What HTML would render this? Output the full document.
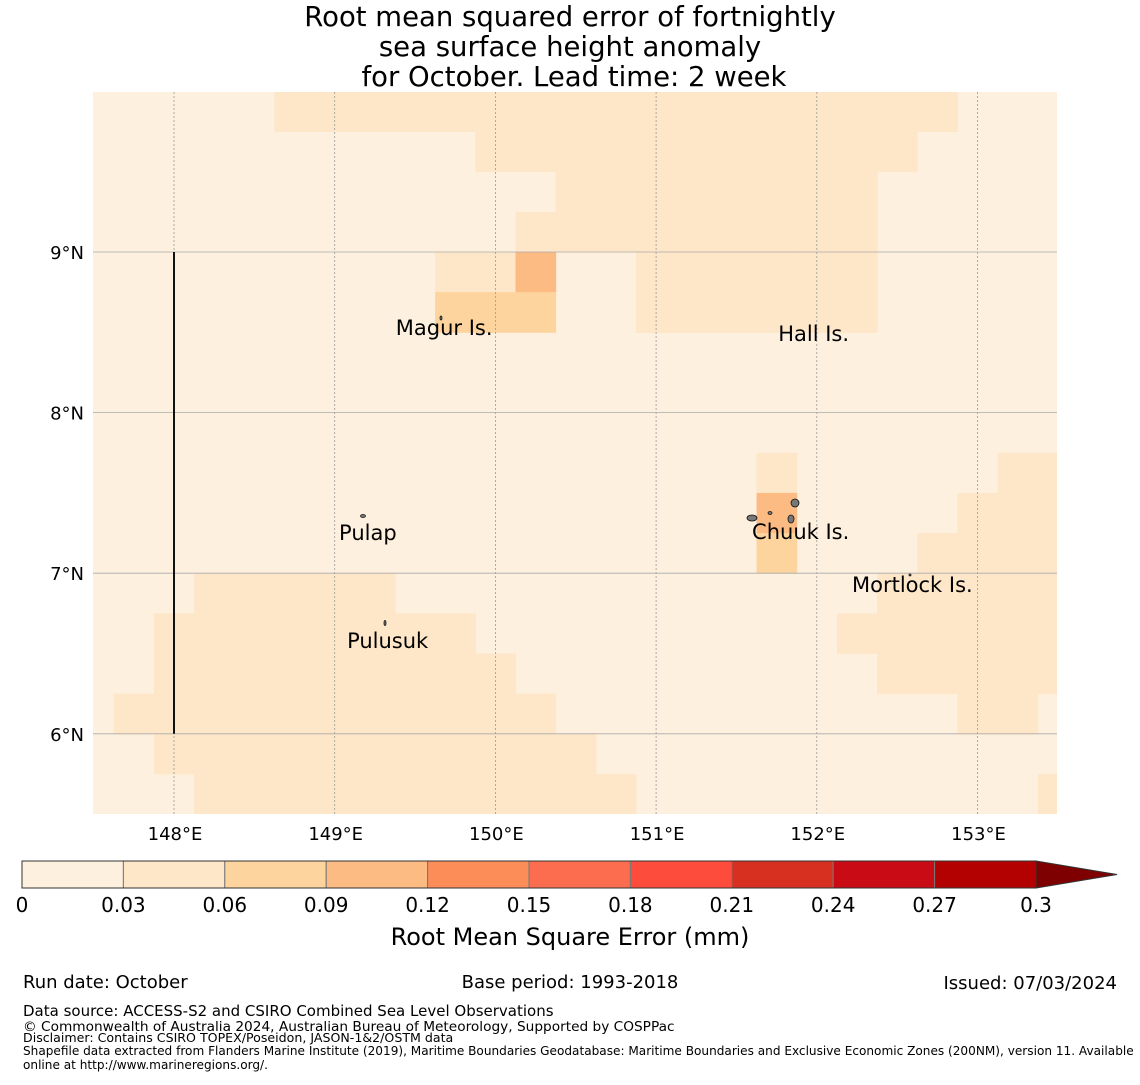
<!DOCTYPE html>
<html><head><meta charset="utf-8">
<style>
body{margin:0;background:#fff;}
svg text{font-family:"DejaVu Sans","Liberation Sans",sans-serif;}
</style></head>
<body>
<svg id="chart" xmlns="http://www.w3.org/2000/svg" width="1140" height="1080" viewBox="0 0 1140 1080">
<g font-size="27.5" text-anchor="middle" fill="#000">
<text x="570" y="26">Root mean squared error of fortnightly</text>
<text x="570" y="56">sea surface height anomaly</text>
<text x="574" y="86">for October. Lead time: 2 week</text>
</g>
<defs><clipPath id="mapclip"><rect x="93" y="92" width="964" height="722"/></clipPath></defs>
<g id="cells" clip-path="url(#mapclip)"></g>
<g id="grid"></g>
<line id="bline" stroke="#111" stroke-width="2"/>
<g id="islands" fill="#777" stroke="#111" stroke-width="0.8"></g>
<g id="labels" font-size="21" fill="#000"></g>
<g id="xt" font-size="18" text-anchor="middle"></g>
<g id="yt" font-size="18" text-anchor="end"></g>
<g id="cbar"></g>
<text x="570" y="945" font-size="24" text-anchor="middle">Root Mean Square Error (mm)</text>
<g fill="#000">
<text x="23" y="988" font-size="18">Run date: October</text>
<text x="570" y="988" font-size="18" text-anchor="middle">Base period: 1993-2018</text>
<text x="1117" y="989" font-size="18" text-anchor="end">Issued: 07/03/2024</text>
<text x="23" y="1016" font-size="15">Data source: ACCESS-S2 and CSIRO Combined Sea Level Observations</text>
<text x="23" y="1031" font-size="13.7">© Commonwealth of Australia 2024, Australian Bureau of Meteorology, Supported by COSPPac</text>
<text x="23" y="1042" font-size="12.6">Disclaimer: Contains CSIRO TOPEX/Poseidon, JASON-1&amp;2/OSTM data</text>
<text x="23" y="1055" font-size="12.1">Shapefile data extracted from Flanders Marine Institute (2019), Maritime Boundaries Geodatabase: Maritime Boundaries and Exclusive Economic Zones (200NM), version 11. Available</text>
<text x="23" y="1069" font-size="12.1">online at http://www.marineregions.org/.</text>
</g>
</svg>
<script>
const gridRows = [
"0000011111111111111111000",
"0000000000111111111110000",
"0000000000001111111100000",
"0000000000011111111100000",
"0000000001130011111100000",
"0000000002220011111100000",
"0000000000000000000000000",
"0000000000000000000000000",
"0000000000000000000000000",
"0000000000000000010000011",
"0000000000000000030000111",
"0000000000000000020001111",
"0001111100000000000011111",
"0011111111000000000111111",
"0011111111100000000011111",
"0111111111110000000000110",
"0011111111111000000000000",
"0001111111111100000000001"
];
const lonStart = 147.5, latTop = 9.875, cellStep = 0.25;
const levelColors = ["#fef0df","#fee6c8","#fdd49e","#fdbb84","#fc8d59","#fc6c4f","#fe4c3c","#d73020","#c90b15","#b30000"];
const cbTicks = ["0","0.03","0.06","0.09","0.12","0.15","0.18","0.21","0.24","0.27","0.3"];
const xTickLons = [148,149,150,151,152,153];
const yTickLats = [6,7,8,9];
const islandNames = ["Magur Is.","Hall Is.","Pulap","Chuuk Is.","Mortlock Is.","Pulusuk"];
const islandLon = [149.38,151.76,149.027,151.597,152.219,149.077];
const islandLat = [8.483,8.446,7.207,7.213,6.883,6.534];

const NS="http://www.w3.org/2000/svg";
function X(lon){return 174+(lon-148)*160.7;}
function Y(lat){return 252-(lat-9)*160.6;}
function mk(tag,attrs,parent){const e=document.createElementNS(NS,tag);for(const k in attrs)e.setAttribute(k,attrs[k]);parent.appendChild(e);return e;}

const cells=document.getElementById('cells');
mk('rect',{x:93,y:92,width:964,height:722,fill:levelColors[0]},cells);
gridRows.forEach((row,r)=>{
  for(let c=0;c<row.length;c++){
    const v=+row[c]; if(v===0) continue;
    const lon=lonStart+c*cellStep, lat=latTop-r*cellStep;
    const x0=X(lon-cellStep/2), x1=X(lon+cellStep/2), y0=Y(lat+cellStep/2), y1=Y(lat-cellStep/2);
    const el=mk('rect',{x:x0,y:y0,width:x1-x0+0.5,height:y1-y0+0.5,fill:levelColors[v]},cells);
    
    
  }
});

const grid=document.getElementById('grid');
xTickLons.forEach(l=>{const e=mk('line',{x1:X(l),x2:X(l),y1:92,y2:814,stroke:'#999','stroke-width':0.8,'stroke-dasharray':'2,2'},grid);
});
yTickLats.forEach(l=>{const e=mk('line',{x1:93,x2:1057,y1:Y(l),y2:Y(l),stroke:'#aaa','stroke-width':0.8},grid);
});

const bl=document.getElementById('bline');
bl.setAttribute('x1',X(148));bl.setAttribute('x2',X(148));bl.setAttribute('y1',Y(9));bl.setAttribute('y2',Y(6));

const isl=document.getElementById('islands');
[[752,518,5,3],[795,503,4,4],[791,519,3,4],[770,513,2,1.5],[363,516,2.5,1.5],[441,318,1,2],[385,623,1,2.5],[910,575,1,1]].forEach(a=>{
  const e=mk('ellipse',{cx:a[0],cy:a[1],rx:a[2],ry:a[3]},isl);
  
});

const lab=document.getElementById('labels');
islandNames.forEach((n,i)=>{const t=mk('text',{x:X(islandLon[i]),y:Y(islandLat[i])},lab);t.textContent=n;
});

const xt=document.getElementById('xt');
xTickLons.forEach(l=>{const t=mk('text',{x:X(l)+1,y:840},xt);t.textContent=l+'°E';
});
const yt=document.getElementById('yt');
yTickLats.forEach(l=>{const t=mk('text',{x:84,y:Y(l)+7},yt);t.textContent=l+'°N';
});

const cb=document.getElementById('cbar');
const cbx0=22,cbx1=1036,cby=861,cbh=27,segW=(cbx1-cbx0)/levelColors.length;
levelColors.forEach((c,i)=>{const e=mk('rect',{x:cbx0+i*segW,y:cby,width:segW,height:cbh,fill:c,stroke:'#777','stroke-width':1},cb);
});
const tri=mk('polygon',{points:`${cbx1},${cby} 1117,${cby+cbh/2} ${cbx1},${cby+cbh}`,fill:'#7f0000',stroke:'#333','stroke-width':1},cb);

mk('rect',{x:cbx0,y:cby,width:cbx1-cbx0,height:cbh,fill:'none',stroke:'#333','stroke-width':1},cb);
cbTicks.forEach((s,i)=>{const t=mk('text',{x:cbx0+i*segW,y:912,'font-size':20,'text-anchor':'middle'},cb);t.textContent=s;
});
</script>
</body></html>
